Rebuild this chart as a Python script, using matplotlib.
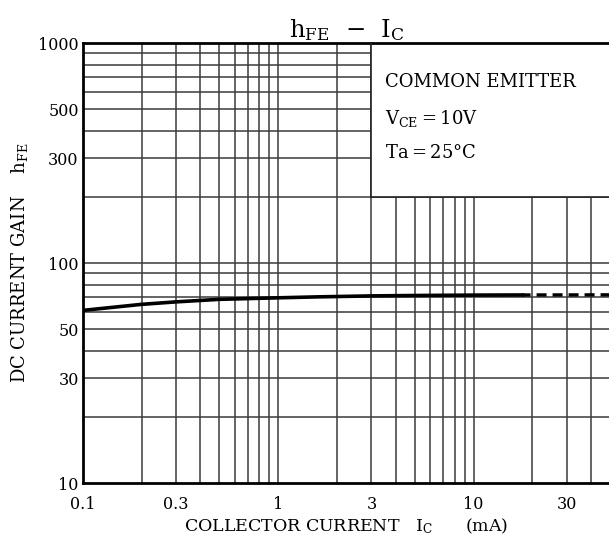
import numpy as np
import matplotlib.pyplot as plt
from matplotlib.ticker import FixedLocator, NullFormatter
from matplotlib.patches import Rectangle

# 数据: hFE - IC 曲线
ic_solid = [0.1, 0.2, 0.3, 0.5, 1, 1.6, 3, 5, 10, 17.8]
hfe_solid = [61, 65, 66.7, 68.5, 69.6, 70.3, 71.0, 71.3, 71.6, 71.7]
ic_dash = [17.8, 50]
hfe_dash = [71.7, 71.8]

x_ticks = [0.1, 0.3, 1, 3, 10, 30]
x_labels = ["0.1", "0.3", "1", "3", "10", "30"]
y_ticks = [10, 30, 50, 100, 300, 500, 1000]
y_labels = ["10", "30", "50", "100", "300", "500", "1000"]

plt.rcParams.update({
    "font.family": ["DejaVu Serif"],
    "mathtext.fontset": "dejavuserif",
})

fig = plt.figure(figsize=(6.09, 5.41), dpi=100)
ax = fig.add_axes([0.136, 0.107, 0.866, 0.813])
ax.set_xscale("log")
ax.set_yscale("log")
ax.set_xlim(0.1, 50)
ax.set_ylim(10, 1000)

# 网格线
x_grid = [m * 10.0 ** e for e in (-1, 0, 1) for m in range(1, 10)]
x_grid = [v for v in x_grid if 0.1 < v < 50]
y_grid = [m * 10.0 ** e for e in (1, 2) for m in range(1, 10)]
y_grid = [v for v in y_grid if 10 < v < 1000]
for v in x_grid:
    ax.axvline(v, color="#3a3a3a", lw=1.1, zorder=1)
for v in y_grid:
    ax.axhline(v, color="#3a3a3a", lw=1.1, zorder=1)

# 右上角条件说明框
ax.add_patch(Rectangle((3, 200), 60, 900, facecolor="white", edgecolor="none", zorder=2))
ax.plot([3, 3], [200, 1000], color="#222222", lw=1.2, zorder=3)
ax.plot([3, 50], [200, 200], color="#222222", lw=1.2, zorder=3)
ax.text(3.5, 665, "COMMON EMITTER", fontsize=13, va="center", zorder=4)
ax.text(3.5, 456, r"V$_{\mathrm{CE}}$$=$10V", fontsize=13, va="center", zorder=4)
ax.text(3.5, 316, "Ta$=$25°C", fontsize=13, va="center", zorder=4)

# 曲线
ax.plot(ic_solid, hfe_solid, color="black", lw=2.6, zorder=5)
ax.plot(ic_dash, hfe_dash, color="black", lw=2.4, ls=(0.6, (3, 1.8)), zorder=5)

ax.xaxis.set_major_locator(FixedLocator(x_ticks))
ax.set_xticklabels(x_labels)
ax.xaxis.set_minor_formatter(NullFormatter())
ax.yaxis.set_major_locator(FixedLocator(y_ticks))
ax.set_yticklabels(y_labels)
ax.yaxis.set_minor_formatter(NullFormatter())
ax.tick_params(which="both", length=0, labelsize=11.5)
ax.tick_params(axis="x", pad=9)
ax.tick_params(axis="y", pad=3)

for s in ["left", "bottom", "top"]:
    ax.spines[s].set_linewidth(2.0)
ax.spines["right"].set_visible(False)

ax.set_xlabel(r"COLLECTOR CURRENT   I$_{\mathrm{C}}$      (mA)", fontsize=12.5, labelpad=3)
ax.set_ylabel(r"DC CURRENT GAIN    h$_{\mathrm{FE}}$", fontsize=13, labelpad=6)
ax.set_title(r"h$_{\mathrm{FE}}$  $-$  I$_{\mathrm{C}}$", fontsize=17.5, pad=3)

plt.savefig("out.png", dpi=100)
